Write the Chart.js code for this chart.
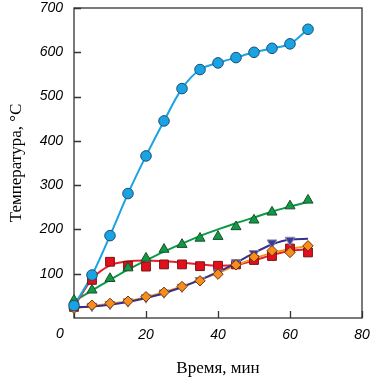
<!DOCTYPE html>
<html>
<head>
<meta charset="utf-8">
<script src="https://cdn.jsdelivr.net/npm/chart.js@4/dist/chart.umd.min.js"></script>
<style>
html,body{margin:0;padding:0;background:#fff;}
#wrap{width:371px;height:379px;position:relative;}
</style>
</head>
<body>
<div id="wrap"><canvas id="c" width="371" height="379"></canvas></div>
<script>
// ---- data ----
const times = [0, 5, 10, 15, 20, 25, 30, 35, 40, 45, 50, 55, 60, 65];
const timesPurple = [0, 5, 10, 15, 20, 25, 30, 35, 40, 45, 50, 55, 60];
const blueVals = [28, 97, 186, 281, 366, 445, 518, 561, 576, 588, 600, 609, 619, 652];
const greenVals = [40, 63, 89, 113, 135, 155, 166, 180, 184, 206, 221, 239, 253, 266];
const redVals = [25, 86, 127, 118, 116, 121, 121, 117, 118, 121, 131, 140, 157, 148];
const orangeVals = [22, 29, 33, 38, 48, 58, 71, 84, 99, 120, 138, 152, 148, 163];
const purpleVals = [24, 27, 31, 37, 46, 57, 70, 85, 102, 125, 146, 170, 176];
// fitted curves
const fitTimes = [0, 5, 10, 15, 20, 25, 30, 35, 40, 45, 50, 55, 60, 65];
const greenFit = [38, 62, 86, 109, 130, 150, 168, 185, 200, 214, 227, 240, 252, 262];
const redFit = [25, 88, 119, 128, 130, 128, 125, 121, 118, 120, 130, 142, 152, 155];
const orangeFit = [22, 27, 32, 38, 47, 58, 71, 86, 102, 119, 134, 147, 156, 162];
const purpleFit = [24, 26, 30, 36, 45, 56, 70, 86, 104, 124, 147, 166, 177, 179];
const xTicks = [0, 20, 40, 60, 80];
const yTicks = [100, 200, 300, 400, 500, 600, 700];
const xTitle = 'Время, мин';
const yTitle = 'Температура, °С';

const pts = (xs, ys) => xs.map((x, i) => ({x: x, y: ys[i]}));

function fitSet(xs, ys, color, order) {
  return {data: pts(xs, ys), showLine: true, borderColor: color, borderWidth: 2,
    pointRadius: 0, pointHoverRadius: 0, cubicInterpolationMode: 'monotone', clip: false, order: order};
}
function markSet(xs, ys, fill, border, style, r, rot, order) {
  return {data: pts(xs, ys), showLine: false, backgroundColor: fill, borderColor: border,
    pointBackgroundColor: fill, pointBorderColor: border, pointBorderWidth: 1,
    pointStyle: style, pointRadius: r, pointRotation: rot || 0, clip: false, order: order};
}

const frame = {
  id: 'frame',
  beforeDatasetsDraw(chart) {
    const {ctx, chartArea: a, scales: {x, y}} = chart;
    ctx.save();
    ctx.strokeStyle = '#333';
    ctx.lineWidth = 1.3;
    ctx.strokeRect(a.left, a.top, a.right - a.left, a.bottom - a.top);
    ctx.beginPath();
    yTicks.forEach(v => { const py = Math.round(y.getPixelForValue(v)) + 0.5; ctx.moveTo(a.left, py); ctx.lineTo(a.left + 7, py); });
    xTicks.forEach(v => { const px = Math.round(x.getPixelForValue(v)) + 0.5; ctx.moveTo(px, a.bottom); ctx.lineTo(px, a.bottom - 7); });
    ctx.stroke();
    ctx.restore();
  },
  afterDraw(chart) {
    const {ctx, chartArea: a, scales: {x}} = chart;
    ctx.save();
    ctx.fillStyle = '#000';
    ctx.font = 'italic 14px "Liberation Sans", Arial, sans-serif';
    ctx.textAlign = 'center';
    ctx.textBaseline = 'middle';
    ctx.fillText(String(xTicks[0]), x.getPixelForValue(xTicks[0]) - 14, 334);
    ctx.font = '17px "Liberation Serif", "Times New Roman", serif';
    ctx.textBaseline = 'alphabetic';
    ctx.fillText(xTitle, (a.left + a.right) / 2, 373);
    ctx.translate(21, (a.top + a.bottom) / 2);
    ctx.rotate(-Math.PI / 2);
    ctx.fillText(yTitle, 0, 0);
    ctx.restore();
  }
};

new Chart(document.getElementById('c'), {
  type: 'scatter',
  data: {
    datasets: [
      markSet(times, blueVals, '#1aa3e3', '#1d4f73', 'circle', 5.3, 0, 1),
      markSet(times, greenVals, '#109a45', '#1e4d2c', 'triangle', 5.8, 0, 2),
      markSet(times, orangeVals, '#f68d1e', '#6e3b0c', 'rectRot', 5.2, 0, 3),
      markSet(timesPurple, purpleVals, '#3b3a9c', '#8a8aa8', 'triangle', 5.6, 180, 4),
      markSet(times, redVals, '#e2101d', '#7a1212', 'rect', 6.2, 0, 5),
      {data: pts(times, blueVals), showLine: true, borderColor: '#1aa3e3', borderWidth: 2,
        pointRadius: 0, tension: 0.35, clip: false, order: 6},
      fitSet(fitTimes, purpleFit, '#352f8f', 7),
      fitSet(fitTimes, orangeFit, '#f7941d', 8),
      fitSet(fitTimes, redFit, '#e5202a', 9),
      fitSet(fitTimes, greenFit, '#0a9a45', 10)
    ]
  },
  options: {
    responsive: false,
    animation: false,
    events: [],
    layout: {padding: {top: 8, right: 9, left: 0, bottom: 0}},
    plugins: {legend: {display: false}, tooltip: {enabled: false}},
    scales: {
      x: {
        type: 'linear', min: 0, max: 80,
        afterBuildTicks: s => { s.ticks = xTicks.map(v => ({value: v})); },
        afterFit: s => { s.height = 61; s.paddingLeft = 0; s.paddingRight = 0; },
        grid: {display: false, drawTicks: false},
        border: {display: false},
        ticks: {padding: 9, color: '#000', maxRotation: 0,
          font: {family: '"Liberation Sans", Arial, sans-serif', size: 14, style: 'italic'},
          callback: v => v === 0 ? '' : String(v)}
      },
      y: {
        type: 'linear', min: 0, max: 700,
        afterBuildTicks: s => { s.ticks = yTicks.map(v => ({value: v})); },
        afterFit: s => { s.width = 74; s.paddingTop = 0; s.paddingBottom = 0; },
        grid: {display: false, drawTicks: false},
        border: {display: false},
        ticks: {padding: 11, color: '#000',
          font: {family: '"Liberation Sans", Arial, sans-serif', size: 14, style: 'italic'}}
      }
    }
  },
  plugins: [frame]
});
</script>
</body>
</html>
